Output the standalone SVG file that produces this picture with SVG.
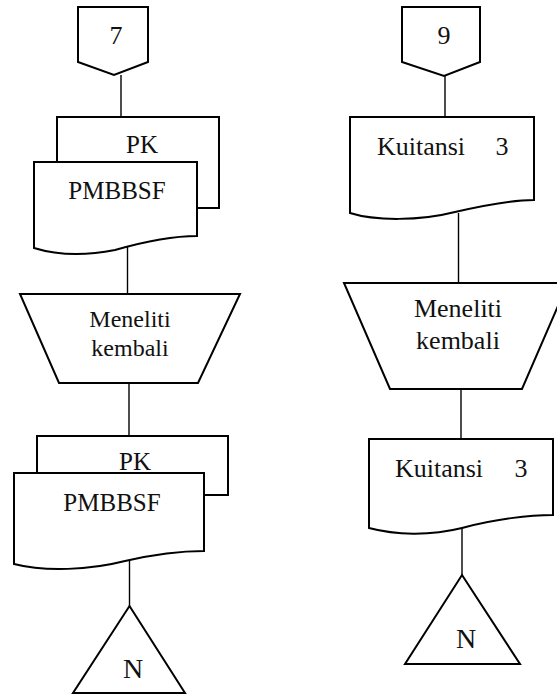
<svg xmlns="http://www.w3.org/2000/svg" width="557" height="694" viewBox="0 0 557 694">
  <style>
    .shape { fill: #fff; stroke: #000; stroke-width: 2; stroke-linejoin: miter; }
    .link { fill: none; stroke: #000; stroke-width: 1.4; }
    .lbl { fill: #111; text-anchor: middle; font-family: 'Liberation Serif', serif; }
  </style>
  <rect width="557" height="694" fill="#fff"/>

  <!-- connectors -->
  <g id="connectors">
    <line class="link" x1="121" y1="75" x2="121" y2="117"/>
    <line class="link" x1="127.5" y1="247" x2="127.5" y2="294"/>
    <line class="link" x1="129" y1="383" x2="129" y2="436"/>
    <line class="link" x1="129.5" y1="561" x2="129.5" y2="606"/>
    <line class="link" x1="445" y1="76" x2="445" y2="117"/>
    <line class="link" x1="458.5" y1="213" x2="458.5" y2="283"/>
    <line class="link" x1="461" y1="389" x2="461" y2="439"/>
    <line class="link" x1="462" y1="528" x2="462" y2="575"/>
  </g>

  <!-- left column -->
  <g id="offpage-7">
    <path class="shape" d="M78,7 H148 V62 L114,75 L78,62 Z"/>
    <text class="lbl" x="116" y="44" font-size="26">7</text>
  </g>

  <g id="docs-pk-pmbbsf-1">
    <rect class="shape" x="57" y="117" width="162" height="91"/>
    <text class="lbl" x="142" y="153" font-size="25">PK</text>
    <path class="shape" d="M34,162 H197 V236 C180,236 150,240 115,250 C85,256 60,256 34,248 Z"/>
    <text class="lbl" x="117" y="199" font-size="25">PMBBSF</text>
  </g>

  <g id="check-left">
    <path class="shape" d="M20,294 H240 L198,383 H59 Z"/>
    <text class="lbl" x="130" y="327" font-size="24">Meneliti</text>
    <text class="lbl" x="130" y="356" font-size="24">kembali</text>
  </g>

  <g id="docs-pk-pmbbsf-2">
    <rect class="shape" x="37" y="436" width="191" height="59"/>
    <text class="lbl" x="135" y="470" font-size="25">PK</text>
    <path class="shape" d="M14,473 H204 V551 C185,551 160,553 125,561 C90,570 45,572 14,564 Z"/>
    <text class="lbl" x="112" y="511" font-size="25">PMBBSF</text>
  </g>

  <g id="file-left">
    <path class="shape" d="M129.5,606 L185,693 H73 Z"/>
    <text class="lbl" x="133" y="678" font-size="28">N</text>
  </g>

  <!-- right column -->
  <g id="offpage-9">
    <path class="shape" d="M402,7 H480 V62 L444,76 L402,62 Z"/>
    <text class="lbl" x="444" y="44" font-size="26">9</text>
  </g>

  <g id="doc-kuitansi-1">
    <path class="shape" d="M350,117 H534 V200 C515,200 490,204 455,212 C420,221 375,221 350,213 Z"/>
    <text class="lbl" x="421" y="155" font-size="26">Kuitansi</text>
    <text class="lbl" x="502" y="155" font-size="26">3</text>
  </g>

  <g id="check-right">
    <path class="shape" d="M344,283 H568 L522,389 H390 Z"/>
    <text class="lbl" x="458" y="317" font-size="26">Meneliti</text>
    <text class="lbl" x="458" y="349" font-size="26">kembali</text>
  </g>

  <g id="doc-kuitansi-2">
    <path class="shape" d="M369,439 H553 V515 C530,515 495,519 462,528 C430,536 395,535 369,528 Z"/>
    <text class="lbl" x="439" y="477" font-size="26">Kuitansi</text>
    <text class="lbl" x="521" y="477" font-size="26">3</text>
  </g>

  <g id="file-right">
    <path class="shape" d="M462,575 L520,664 H405 Z"/>
    <text class="lbl" x="466" y="648" font-size="28">N</text>
  </g>
</svg>
